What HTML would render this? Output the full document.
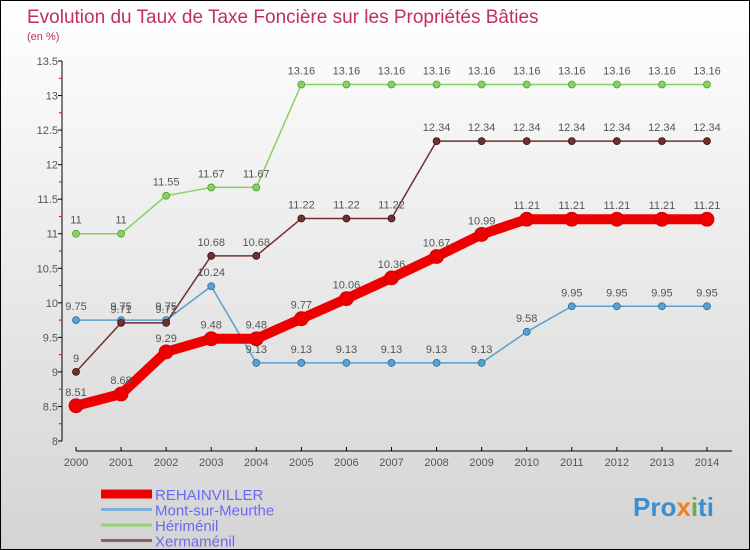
<!DOCTYPE html>
<html><head><meta charset="utf-8"><style>
body{margin:0}
#c{width:750px;height:550px;position:relative;overflow:hidden;box-sizing:border-box;border:1px solid #000;background:linear-gradient(#fff,#d4d4d4);font-family:"Liberation Sans",sans-serif}
svg{position:absolute;left:0;top:0}
</style></head><body>
<div id="c">
<svg id="s" width="750" height="550">
<text x="26" y="22" font-size="19" fill="#c0305a">Evolution du Taux de Taxe Foncière sur les Propriétés Bâties</text>
<text x="26" y="39" font-size="11" fill="#c0305a">(en %)</text>
<text x="632" y="515" font-size="26" font-weight="bold" fill="#3a8fd0">Pro<tspan fill="#f08020">x</tspan><tspan fill="#6ab040">i</tspan>ti</text>
</svg>
</div>
<script>
const years=[2000,2001,2002,2003,2004,2005,2006,2007,2008,2009,2010,2011,2012,2013,2014];
const yTicks=[8,8.5,9,9.5,10,10.5,11,11.5,12,12.5,13,13.5];
const rehain=[8.51,8.68,9.29,9.48,9.48,9.77,10.06,10.36,10.67,10.99,11.21,11.21,11.21,11.21,11.21];
const mont=[9.75,9.75,9.75,10.24,9.13,9.13,9.13,9.13,9.13,9.13,9.58,9.95,9.95,9.95,9.95];
const heri=[11,11,11.55,11.67,11.67,13.16,13.16,13.16,13.16,13.16,13.16,13.16,13.16,13.16,13.16];
const xerm=[9,9.71,9.71,10.68,10.68,11.22,11.22,11.22,12.34,12.34,12.34,12.34,12.34,12.34,12.34];
const seriesNames=["REHAINVILLER","Mont-sur-Meurthe","Hériménil","Xermaménil"];
const NS="http://www.w3.org/2000/svg",svg=document.getElementById('s');
const X=i=>75+i*(706-75)/14, Y=v=>440-(v-8)*(380/5.5);
function el(t,a,p){const e=document.createElementNS(NS,t);for(const k in a)e.setAttribute(k,a[k]);(p||svg).appendChild(e);return e;}
let ax=el('line',{x1:61,y1:60,x2:61,y2:440,stroke:'#000'});


yTicks.forEach(v=>{
 el('line',{x1:57,x2:61,y1:Y(v),y2:Y(v),stroke:'#000'});
 if(v<13.5){el('line',{x1:58,x2:61,y1:Y(v+0.25),y2:Y(v+0.25),stroke:'#e00'});}
 const t=el('text',{x:57,y:Y(v)+4,'text-anchor':'end','font-size':11,fill:'#555'});t.textContent=v;
 
 
});
let xa=el('line',{x1:75,y1:450,x2:706+25,y2:450,stroke:'#000'});


years.forEach((y,i)=>{
 el('line',{x1:X(i),x2:X(i),y1:446,y2:450,stroke:'#000'});
 const t=el('text',{x:X(i),y:465,'text-anchor':'middle','font-size':11,fill:'#555'});t.textContent=y;
 
 
});
function series(d,col,w,r,name,dark){
 const g=el('g',{});
 
 
 el('polyline',{points:d.map((v,i)=>X(i)+','+Y(v)).join(' '),fill:'none',stroke:col,'stroke-width':w,'stroke-linejoin':'round'},g);
 d.forEach((v,i)=>{
  const c=el('circle',{cx:X(i),cy:Y(v),r:r,fill:col,stroke:dark,'stroke-width':0.8},g);
  
  
  const t=el('text',{x:X(i),y:Y(v)-10,'text-anchor':'middle','font-size':11,fill:'#555'},g);t.textContent=v;
 });
}
series(mont,'#5aa0d0',1.5,3.5,'mont-sur-meurthe','#2a70a0');
series(heri,'#88d060',1.5,3.5,'herimenil','#50a030');
series(xerm,'#703030',1.5,3.5,'xermamenil','#401010');
series(rehain,'#ee0000',10,7,'rehainviller','#cc0000');
const lc=['#ee0000','#7ab0d8','#98d070','#906060'],lw=[9,3,3,3];
seriesNames.forEach((n,i)=>{
 const y=493+i*15.5;
 const l=el('line',{x1:100,x2:151,y1:y,y2:y,stroke:lc[i],'stroke-width':lw[i]});
 
 
 const t=el('text',{x:154,y:y+6,'font-size':15,fill:'#6a6af0'});t.textContent=n;
 
 
});
</script>
</body></html>
